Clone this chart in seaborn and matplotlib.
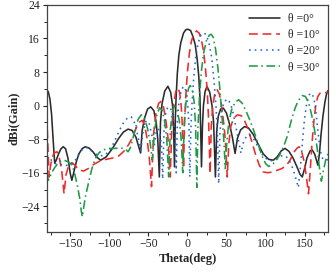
import matplotlib
matplotlib.use("Agg")
import matplotlib.pyplot as plt
from matplotlib.ticker import MultipleLocator
import seaborn as sns

# angle (deg) and gain (dBi), one list pair per scan angle
theta_0 = [-180, -178, -176, -174, -172, -170, -168, -165, -162, -159, -156, -153, -150, -148,
           -145, -142, -139, -135, -131, -126, -121, -116, -111, -104, -96, -88, -82, -76, -71,
           -66, -60, -58, -55, -51, -47, -43, -40, -38, -36, -34.5, -32.5, -29, -25, -21.5, -19,
           -17.8, -16.6, -15.5, -14.5, -13, -11, -8.5, -5, -2, 0.7, 4, 7, 10, 12.5, 14.5, 16,
           18, 19.2, 20.5, 22.5, 25, 28.5, 31.5, 33.5, 35.8, 37.5, 39.5, 42.5, 46, 50, 54, 57.5,
           61, 64, 68, 73, 78, 84, 90, 97, 104, 110, 115, 120, 125, 130, 135, 140, 144, 147,
           150, 153, 157, 160, 163, 165.5, 167, 169, 171, 173.5, 176, 178, 180]
gain_0 = [3.8, 3.2, 1.5, -2, -8, -13.7, -13, -11.5, -10.3, -9.8, -10.3, -12.5, -16.2, -17.8,
          -15.5, -13.2, -11.5, -10.3, -9.8, -10.1, -11, -12.3, -13, -12.2, -10.2, -7.8, -6.3,
          -5.6, -5.9, -7.5, -11.3, -6, -3, -0.8, -0.3, -1.2, -4, -8, -17, -4, 0.5, 3.5, 4.6,
          3.2, 0, -5, -14.6, -3, 2, 7.5, 12, 15, 17.3, 18.1, 18.2, 17.9, 16.5, 14.5, 11, 7, 2,
          -14.6, -5, 0, 3.3, 4.6, 3.2, 0, -4, -17, -6, -2.5, -0.8, -0.6, -1.8, -4.5, -7.5,
          -11.4, -7.8, -5.8, -5, -5.3, -6.8, -9, -11.5, -12.8, -13, -12.2, -10.8, -10.2,
          -10.9, -12.4, -14.5, -16.3, -17, -15, -12.5, -10.8, -10.6, -11.6, -13.2, -14.2,
          -11.5, -7, -2.5, 0.8, 2.7, 3.6]

theta_10 = [-180, -179, -178, -177, -175.5, -173, -170, -167, -164, -161, -158, -155.5, -152,
            -148, -144, -139, -133, -127, -120, -112, -104, -96, -88, -81, -75, -70, -66, -62,
            -58, -55, -52, -49, -46, -43.5, -40.5, -37, -34, -31, -28, -25, -22, -20, -17.5,
            -15, -12.5, -10, -8, -6.5, -5, -3.5, -2, 0, 2.5, 5, 8, 11.5, 15, 18, 21, 23.5, 25.5,
            27, 29, 30.5, 32.5, 35, 38, 41, 44, 47, 49, 51, 53, 55.5, 59, 64, 69, 73, 77, 82,
            87, 92, 97, 103, 109, 115, 121, 127, 132, 136, 140, 143, 146, 149, 152, 155, 157,
            159.5, 162, 164.5, 167, 170, 174, 177, 180]
gain_10 = [-2.5, -8, -13, -17, -14.5, -12.2, -11.2, -11, -12.5, -15.5, -21, -16.5, -14.2,
           -13.6, -14.2, -15.3, -15.6, -15, -14, -13.2, -12.8, -12.5, -12, -10.8, -9.2, -7.5,
           -5.5, -4, -3.5, -4.5, -7.5, -12, -19.3, -7, -2, 0.5, 1, 0, -3, -7.5, -17, -5, 0.5,
           3.3, 4.2, 3.2, 0, -5, -15, -3, 2.5, 8, 12.5, 15.3, 17.1, 17.8, 17.3, 15.6, 12.5, 8,
           3, -3, -16.2, -5, 0, 2.8, 3.8, 2.7, -0.5, -5, -9.5, -17, -9, -5, -3, -2.2, -2.4,
           -3.5, -5.3, -8.3, -11.5, -14.2, -15.8, -16, -15.8, -15.4, -15, -14.2, -12.8, -11.2,
           -10.2, -9.8, -10.8, -13, -16.5, -21, -16, -9, -3.5, 0.3, 2.2, 3, 3.3, 3.1, 3.2]

theta_20 = [-180, -176, -172, -168, -164, -160, -156, -152, -148, -144, -139, -134, -129, -124,
            -118, -112, -106, -101, -96, -91, -86, -81, -76, -72, -68, -65, -62, -60, -57, -53,
            -49, -45, -42.5, -40, -37.5, -35, -33, -31.7, -30, -28, -25.5, -23, -20, -17.5,
            -15.5, -14.4, -13, -11, -8, -5, -2, 0.5, 2, 3, 4.5, 6, 8, 10.5, 13.5, 17, 20.5, 24,
            27.5, 31, 34, 36.5, 38.5, 40, 41.5, 43.5, 46.5, 51, 55, 58.5, 62, 65, 68.5, 72, 76,
            80, 85, 91, 98, 106, 114, 120, 126, 131, 135, 139, 142, 145, 147.5, 150, 153, 156,
            159, 162, 164.5, 167, 169.5, 172, 175, 178, 180]
gain_20 = [-11.8, -12.6, -13.5, -13.9, -14.1, -14, -14.2, -14.3, -14, -13.2, -11.6, -10.3, -10,
           -10.6, -11.5, -12, -11.8, -11, -9.5, -7.5, -5.5, -3.8, -2.8, -2.7, -4, -6, -8.5,
           -11.3, -6.5, -3.6, -4.2, -7.5, -9.5, -6.5, -5.5, -7, -10, -17.5, -6, -2, -0.5, -0.3,
           -1.3, -4, -8, -16, -4, 0.5, 3.6, 4.6, 3.6, 0, -5, -17, -5, 1, 6.5, 11.5, 14.8, 16.8,
           17.4, 16.9, 15, 11.5, 6, 0, -7, -18.6, -7, -2, 0.8, 1.6, 0.6, -1.8, -5, -8, -11.3,
           -8.5, -7.2, -7, -8, -10, -12.3, -13.2, -12.8, -12, -12, -13.3, -15, -17.5, -19.5,
           -14, -8, -3, 0.8, 2.6, 3, 1.8, -1.5, -6, -10, -12.3, -13, -13, -12.8]

theta_30 = [-180, -178, -176, -174, -170, -166, -162, -158, -154, -150, -147, -144, -141, -138,
            -136, -134.6, -133, -131, -128, -125, -122, -118, -113, -107, -100, -93, -86, -80,
            -76, -73, -70, -67, -63, -59, -55, -51, -48, -45, -42, -39, -35.5, -32, -29, -26.5,
            -24, -22, -19.5, -16.5, -13.5, -10.5, -8, -6, -4, -1.5, 1.5, 3.5, 6, 8.5, 10.5, 12,
            13.5, 15.5, 18, 21, 24.5, 28, 30.5, 33, 36, 39, 41.5, 44, 46.5, 48.5, 50.5, 53,
            56.5, 61, 65.5, 70, 75, 80, 85, 90, 95, 100, 104, 108, 113, 118, 123, 128, 133, 138,
            142, 147, 151, 155, 159, 162.5, 166, 169, 171.5, 174, 177, 180]
gain_30 = [-16, -17.8, -17, -16, -14.8, -13.8, -13.2, -13, -13.3, -13.8, -14.5, -16.5, -19, -22,
           -25, -26.5, -24.5, -22, -19.5, -17, -14.8, -12.6, -11.2, -10.5, -10.2, -10.2, -10.1,
           -10.3, -11, -10, -8, -5.5, -3.2, -2.2, -3, -5.5, -8.5, -13, -6, -2, -0.5, -1.2, -4,
           -8, -17, -6, -1.5, 0, -1, -3.5, -8, -16, -4, 1.5, 4.2, 4.8, 4, 1, -5, -19.5, -5, 2.5,
           8.5, 12.8, 15.6, 16.8, 17, 16.3, 13.5, 9, 4, -2, -8, -15, -8.5, -4, -1, 0.8, 1.4,
           0.6, -1.3, -3.5, -6, -8.8, -11.8, -13.8, -14.5, -14.2, -13.2, -11.8, -9.8, -7.2,
           -3.5, -0.5, 1.2, 2.4, 2.2, 0.8, -2.2, -5.5, -10, -14.8, -18, -15.5, -13, -11.5]

labels = ["θ =0°", "θ =10°", "θ =20°", "θ =30°"]
colors = ["#2b2b2b", "#ee2a2a", "#1f62d8", "#1f9a48"]
styles = ["-", (0, (5.5, 3)), (0, (1, 2.6)), (0, (5.5, 2.2, 1, 2.2))]

sns.set_style("ticks")
plt.rcParams['font.family'] = ['Liberation Serif', 'DejaVu Serif']

fig = plt.figure(figsize=(3.3, 2.73), dpi=100)
ax = fig.add_axes([0.142, 0.152, 0.852, 0.83])

series = [(theta_0, gain_0), (theta_10, gain_10), (theta_20, gain_20), (theta_30, gain_30)]
for (th, g), lab, c, ls in zip(series, labels, colors, styles):
    sns.lineplot(x=th, y=g, ax=ax, color=c, linestyle=ls, linewidth=1.15,
                 label=lab, estimator=None, sort=False)

ax.set_xlim(-180, 180)
ax.set_ylim(-30, 24)
ax.xaxis.set_major_locator(MultipleLocator(50))
ax.xaxis.set_minor_locator(MultipleLocator(25))
ax.yaxis.set_major_locator(MultipleLocator(8))
ax.yaxis.set_minor_locator(MultipleLocator(4))
ax.tick_params(axis='both', which='major', direction='out', length=3, width=0.8,
               labelsize=8.5, pad=2, colors='#222222')
ax.tick_params(axis='both', which='minor', direction='out', length=2.5, width=0.7)
ax.tick_params(top=False, right=False, which='both')
for sp in ax.spines.values():
    sp.set_linewidth(0.9)
    sp.set_color('#444444')

ax.set_xlabel('Theta(deg)', fontsize=9, fontweight='bold', labelpad=2)
ax.set_ylabel('dBi(Gain)', fontsize=9, fontweight='bold', labelpad=1)

ax.legend(loc='upper right', frameon=False, fontsize=8.5, handlelength=2.6,
          handletextpad=0.7, labelspacing=0.35, borderaxespad=0.3)

fig.savefig('out.png', dpi=100)
